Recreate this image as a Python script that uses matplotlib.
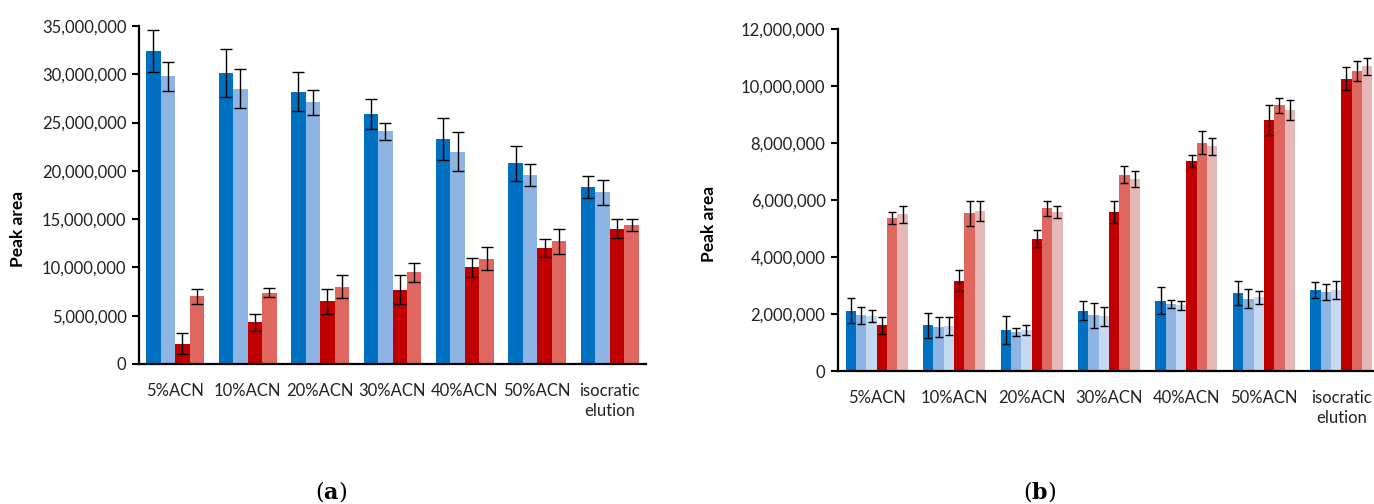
import numpy as np
import matplotlib.pyplot as plt
from matplotlib.ticker import FuncFormatter

plt.rcParams['font.family'] = ['Lato', 'DejaVu Sans']
plt.rcParams['mathtext.fontset'] = 'dejavuserif'

groups = ['5%ACN', '10%ACN', '20%ACN', '30%ACN', '40%ACN', '50%ACN', 'isocratic\nelution']

# panel (a): four series, values in millions
a_vals = [
    [32.4, 30.1, 28.2, 25.9, 23.3, 20.8, 18.3],
    [29.8, 28.5, 27.1, 24.1, 22.0, 19.6, 17.8],
    [2.1, 4.3, 6.5, 7.7, 10.0, 12.0, 14.0],
    [7.0, 7.4, 8.0, 9.5, 10.9, 12.7, 14.4],
]
a_err = [
    [2.2, 2.5, 2.0, 1.55, 2.15, 1.8, 1.15],
    [1.5, 2.0, 1.3, 0.9, 2.0, 1.15, 1.3],
    [1.1, 0.9, 1.3, 1.5, 1.0, 0.93, 1.0],
    [0.8, 0.5, 1.2, 1.0, 1.2, 1.3, 0.6],
]

# panel (b): six series, values in millions
b_vals = [
    [2.12, 1.60, 1.44, 2.11, 2.47, 2.73, 2.84],
    [1.95, 1.53, 1.37, 1.95, 2.34, 2.54, 2.77],
    [1.92, 1.58, 1.44, 1.92, 2.30, 2.58, 2.84],
    [1.61, 3.16, 4.64, 5.58, 7.36, 8.81, 10.25],
    [5.36, 5.53, 5.71, 6.88, 8.01, 9.32, 10.53],
    [5.50, 5.61, 5.58, 6.74, 7.88, 9.16, 10.70],
]
b_err = [
    [0.44, 0.45, 0.50, 0.33, 0.47, 0.42, 0.29],
    [0.31, 0.35, 0.15, 0.45, 0.14, 0.33, 0.28],
    [0.21, 0.33, 0.18, 0.34, 0.17, 0.23, 0.32],
    [0.30, 0.37, 0.29, 0.40, 0.21, 0.53, 0.40],
    [0.21, 0.45, 0.26, 0.30, 0.40, 0.27, 0.36],
    [0.30, 0.36, 0.20, 0.27, 0.29, 0.36, 0.30],
]

a_colors = ['#0070C0', '#8DB4E2', '#C00000', '#E06660']
b_colors = ['#0070C0', '#8DB4E2', '#C5D9F1', '#C00000', '#E06660', '#E6B8B7']

fig = plt.figure(figsize=(13.74, 5.04), dpi=100)


def panel(ax, vals, errs, colors, ymax, step, capsize, label_x, label_y):
    x = np.arange(len(groups))
    n = len(vals)
    w = 0.8 / n
    for i in range(n):
        pos = x - 0.4 + w * (i + 0.5)
        ax.bar(pos, np.array(vals[i]) * 1e6, width=w, color=colors[i], zorder=2)
        ax.errorbar(pos, np.array(vals[i]) * 1e6, yerr=np.array(errs[i]) * 1e6,
                    fmt='none', ecolor='black', elinewidth=1, capsize=capsize,
                    capthick=1, zorder=3)
    ax.set_xlim(-0.5, len(groups) - 0.5)
    ax.set_ylim(0, ymax)
    ax.set_yticks(np.arange(0, ymax + 1, step))
    ax.yaxis.set_major_formatter(FuncFormatter(lambda v, p: f'{int(v):,}'))
    ax.set_xticks(x)
    ax.set_xticklabels(groups, linespacing=1.3)
    ax.tick_params(axis='x', length=0, pad=14, labelsize=12, colors='#222222')
    ax.tick_params(axis='y', length=5, width=1.5, direction='out', labelsize=12,
                   colors='black', labelcolor='#222222', pad=4)
    for s in ['top', 'right']:
        ax.spines[s].set_visible(False)
    for s in ['left', 'bottom']:
        ax.spines[s].set_linewidth(1.6)
    ax.set_ylabel('Peak area', fontweight='bold', fontsize=12.5)
    ax.yaxis.set_label_coords(label_x, label_y)


ax1 = fig.add_axes([139 / 1374, 1 - 364 / 504, 507 / 1374, 338 / 504])
panel(ax1, a_vals, a_err, a_colors, 35e6, 5e6, 4, -0.222, 0.40)

ax2 = fig.add_axes([838 / 1374, 1 - 371 / 504, 542 / 1374, 342 / 504])
panel(ax2, b_vals, b_err, b_colors, 12e6, 2e6, 3.2, -0.224, 0.43)

fig.text(331 / 1374, 1 - 492 / 504, r'$(\mathbf{a})$', fontsize=16,
         ha='center', va='center')
fig.text(1040 / 1374, 1 - 492 / 504, r'$(\mathbf{b})$', fontsize=16,
         ha='center', va='center')

fig.savefig('out.png', dpi=100)
